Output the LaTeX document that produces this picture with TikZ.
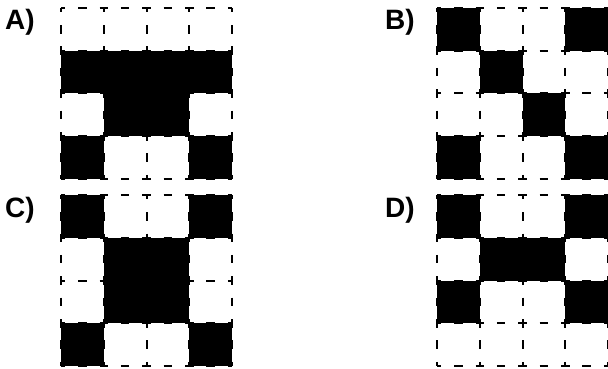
\documentclass[tikz,border=0pt]{standalone}
\usepackage{fontspec}
\setmainfont{Liberation Sans}

\begin{document}
\begin{tikzpicture}[x=1pt, y=-1pt,
  celda/.style={fill=black},
  rejilla/.style={line width=2pt, dash pattern=on 8.5pt off 12.875pt,
    dash phase=4.25pt},
  letra/.style={font=\fontsize{28}{28}\selectfont\bfseries,
    anchor=base west, inner sep=0pt}]
  \useasboundingbox (0,0) rectangle (608,369);
  % A
  \begin{scope}[shift={(61,8)}]
    \foreach \c/\r in {0/1,1/1,2/1,3/1,1/2,2/2,0/3,3/3}
      \fill[celda] (\c*42.75,\r*42.75) rectangle ++(42.75,42.75);
    \foreach \i in {0,...,4} {
      \draw[rejilla] (\i*42.75,0) -- ++(0,171);
      \draw[rejilla] (0,\i*42.75) -- ++(171,0);
    }
  \end{scope}
  % B
  \begin{scope}[shift={(437,8)}]
    \foreach \c/\r in {0/0,3/0,1/1,2/2,0/3,3/3}
      \fill[celda] (\c*42.75,\r*42.75) rectangle ++(42.75,42.75);
    \foreach \i in {0,...,4} {
      \draw[rejilla] (\i*42.75,0) -- ++(0,171);
      \draw[rejilla] (0,\i*42.75) -- ++(171,0);
    }
  \end{scope}
  % C
  \begin{scope}[shift={(61,195)}]
    \foreach \c/\r in {0/0,3/0,1/1,2/1,1/2,2/2,0/3,3/3}
      \fill[celda] (\c*42.75,\r*42.75) rectangle ++(42.75,42.75);
    \foreach \i in {0,...,4} {
      \draw[rejilla] (\i*42.75,0) -- ++(0,171);
      \draw[rejilla] (0,\i*42.75) -- ++(171,0);
    }
  \end{scope}
  % D
  \begin{scope}[shift={(437,195)}]
    \foreach \c/\r in {0/0,3/0,1/1,2/1,0/2,3/2}
      \fill[celda] (\c*42.75,\r*42.75) rectangle ++(42.75,42.75);
    \foreach \i in {0,...,4} {
      \draw[rejilla] (\i*42.75,0) -- ++(0,171);
      \draw[rejilla] (0,\i*42.75) -- ++(171,0);
    }
  \end{scope}
  \node[letra] (etqA) at (5,30) {A)};
  \node[letra] (etqB) at (385,30) {B)};
  \node[letra] (etqC) at (5,217.5) {C)};
  \node[letra] (etqD) at (385,217.5) {D)};
\end{tikzpicture}
\end{document}
